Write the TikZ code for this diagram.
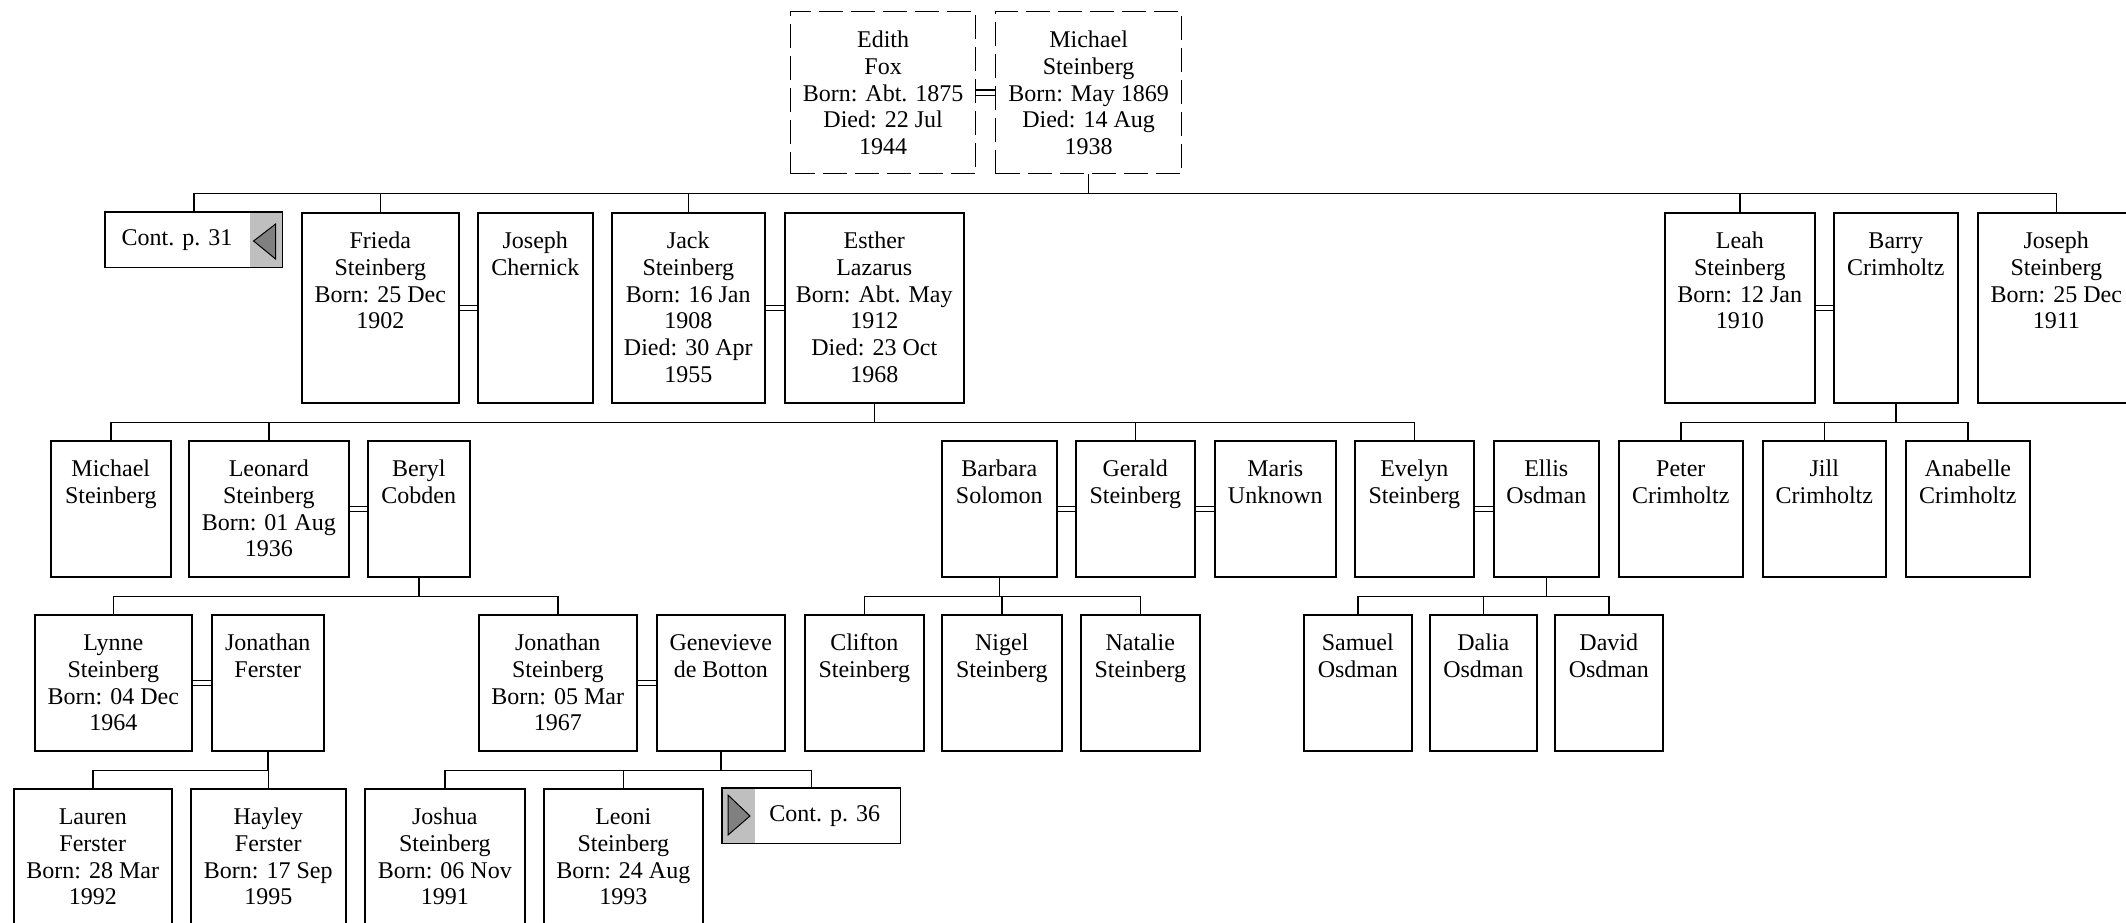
\documentclass[tikz,border=0pt]{standalone}
\usepackage{fontspec}
\setmainfont{Liberation Serif}
\usetikzlibrary{calc}
\tikzset{
  pbox/.style={draw, line width=0.8pt, inner sep=0pt, anchor=north west, fill=white,
    font=\fontsize{12}{13.35}\selectfont},
  dbox/.style={pbox, line width=0.6pt, dash pattern=on 12pt off 4pt},
  conn/.style={line width=0.7pt},
  lbl/.style={inner sep=0pt, font=\fontsize{12}{13.35}\selectfont},
  contgray/.style={fill=black!25},
  arrowtri/.style={fill=black!50, draw, line width=0.5pt, line join=miter},
}
\newcommand\pers[7]{%
  \pgfmathsetmacro\pw{(#5-#3)/2}%
  \pgfmathsetmacro\ph{(#6-#4)/2}%
  \node[#1] (#2) at (#3,#4) {\parbox[c][\ph pt][t]{\pw pt}{\centering\rule{0pt}{18pt}#7\par}};}
\newcommand\marr[2]{%
  \draw[conn] ([yshift=1.3pt]#1.east) -- ([yshift=1.3pt]#2.west);
  \draw[conn] ([yshift=-1.3pt]#1.east) -- ([yshift=-1.3pt]#2.west);}
\begin{document}
\begin{tikzpicture}[x=0.5pt,y=-0.5pt]
\useasboundingbox (0,0) rectangle (2126,922);
\clip (0,0) rectangle (2126,922);
\fill[white] (0,0) rectangle (2126,922);

% generation 1
\pers{dbox}{edith}{790}{11}{975}{173}{Edith\\Fox\\Born: Abt. 1875\\Died: 22 Jul\\1944}
\pers{dbox}{michael}{995}{11}{1181}{173}{Michael\\Steinberg\\Born: May 1869\\Died: 14 Aug\\1938}

% generation 2
\node[pbox, draw=none, minimum width=88pt, minimum height=27pt] (cont31) at (105,212) {};
\fill[contgray] ($(cont31.north east)+(-33,0)$) rectangle (cont31.south east);
\draw[arrowtri] ($(cont31.north east)+(-29,29)$) -- ($(cont31.north east)+(-7,12)$) -- ($(cont31.north east)+(-7,47)$) -- cycle;
\draw[line width=0.8pt] (cont31.north west) rectangle (cont31.south east);
\node[lbl] (t31) at ($(cont31.west)!0.405!(cont31.east)$) {Cont. p. 31};

\pers{pbox}{frieda}{301}{212}{458}{402}{Frieda\\Steinberg\\Born: 25 Dec\\1902}
\pers{pbox}{chernick}{477}{212}{592}{402}{Joseph\\Chernick}
\pers{pbox}{jack}{611}{212}{764}{402}{Jack\\Steinberg\\Born: 16 Jan\\1908\\Died: 30 Apr\\1955}
\pers{pbox}{esther}{784}{212}{963}{402}{Esther\\Lazarus\\Born: Abt. May\\1912\\Died: 23 Oct\\1968}
\pers{pbox}{leah}{1664}{212}{1814}{402}{Leah\\Steinberg\\Born: 12 Jan\\1910}
\pers{pbox}{barry}{1833}{212}{1957}{402}{Barry\\Crimholtz}
\pers{pbox}{josephs}{1977}{212}{2134}{402}{Joseph\\Steinberg\\Born: 25 Dec\\1911}

% generation 3
\pers{pbox}{michaels}{50}{440}{170}{576}{Michael\\Steinberg}
\pers{pbox}{leonard}{188}{440}{348}{576}{Leonard\\Steinberg\\Born: 01 Aug\\1936}
\pers{pbox}{beryl}{367}{440}{469}{576}{Beryl\\Cobden}
\pers{pbox}{barbara}{941}{440}{1056}{576}{Barbara\\Solomon}
\pers{pbox}{gerald}{1075}{440}{1194}{576}{Gerald\\Steinberg}
\pers{pbox}{maris}{1214}{440}{1335}{576}{Maris\\Unknown}
\pers{pbox}{evelyn}{1354}{440}{1473}{576}{Evelyn\\Steinberg}
\pers{pbox}{ellis}{1493}{440}{1598}{576}{Ellis\\Osdman}
\pers{pbox}{peter}{1618}{440}{1742}{576}{Peter\\Crimholtz}
\pers{pbox}{jill}{1762}{440}{1885}{576}{Jill\\Crimholtz}
\pers{pbox}{anabelle}{1905}{440}{2029}{576}{Anabelle\\Crimholtz}

% generation 4
\pers{pbox}{lynne}{34}{614}{191}{750}{Lynne\\Steinberg\\Born: 04 Dec\\1964}
\pers{pbox}{jferster}{211}{614}{323}{750}{Jonathan\\Ferster}
\pers{pbox}{jsteinberg}{478}{614}{636}{750}{Jonathan\\Steinberg\\Born: 05 Mar\\1967}
\pers{pbox}{genevieve}{656}{614}{784}{750}{Genevieve\\de Botton}
\pers{pbox}{clifton}{804}{614}{923}{750}{Clifton\\Steinberg}
\pers{pbox}{nigel}{941}{614}{1061}{750}{Nigel\\Steinberg}
\pers{pbox}{natalie}{1080}{614}{1199}{750}{Natalie\\Steinberg}
\pers{pbox}{samuel}{1303}{614}{1411}{750}{Samuel\\Osdman}
\pers{pbox}{dalia}{1429}{614}{1536}{750}{Dalia\\Osdman}
\pers{pbox}{david}{1554}{614}{1662}{750}{David\\Osdman}

% generation 5
\pers{pbox}{lauren}{13}{788}{171}{950}{Lauren\\Ferster\\Born: 28 Mar\\1992}
\pers{pbox}{hayley}{190}{788}{345}{950}{Hayley\\Ferster\\Born: 17 Sep\\1995}
\pers{pbox}{joshua}{364}{788}{524}{950}{Joshua\\Steinberg\\Born: 06 Nov\\1991}
\pers{pbox}{leoni}{543}{788}{702}{950}{Leoni\\Steinberg\\Born: 24 Aug\\1993}

\node[pbox, draw=none, minimum width=88.5pt, minimum height=27pt] (cont36) at (722,788) {};
\fill[contgray] (cont36.north west) rectangle ($(cont36.south west)+(33,0)$);
\draw[arrowtri] ($(cont36.north west)+(28,28)$) -- ($(cont36.north west)+(6,7)$) -- ($(cont36.north west)+(6,47)$) -- cycle;
\draw[line width=0.8pt] (cont36.north west) rectangle (cont36.south east);
\node[lbl] (t36) at ($(cont36.west)!0.575!(cont36.east)$) {Cont. p. 36};

% marriages
\marr{edith}{michael}
\marr{frieda}{chernick}
\marr{jack}{esther}
\marr{leah}{barry}
\marr{leonard}{beryl}
\marr{barbara}{gerald}
\marr{gerald}{maris}
\marr{evelyn}{ellis}
\marr{lynne}{jferster}
\marr{jsteinberg}{genevieve}

% descent lines
\coordinate (b1) at ($(michael.south)+(0,19)$);
\draw[conn] (michael.south) -- (b1);
\draw[conn] (cont31.north) |- (b1) -| (josephs.north);
\foreach \c in {frieda,jack,leah} \draw[conn] (\c.north) -- (\c.north |- b1);

\coordinate (b2) at ($(esther.south)+(0,19)$);
\draw[conn] (esther.south) -- (b2);
\draw[conn] (michaels.north) |- (b2) -| (evelyn.north);
\foreach \c in {leonard,gerald} \draw[conn] (\c.north) -- (\c.north |- b2);

\coordinate (b3) at ($(barry.south)+(0,19)$);
\draw[conn] (barry.south) -- (b3);
\draw[conn] (peter.north) |- (b3) -| (anabelle.north);
\draw[conn] (jill.north) -- (jill.north |- b3);

\coordinate (b4) at ($(beryl.south)+(0,19)$);
\draw[conn] (beryl.south) -- (b4);
\draw[conn] (lynne.north) |- (b4) -| (jsteinberg.north);

\coordinate (b5) at ($(barbara.south)+(0,19)$);
\draw[conn] (barbara.south) -- (b5);
\draw[conn] (clifton.north) |- (b5) -| (natalie.north);
\draw[conn] (nigel.north) -- (nigel.north |- b5);

\coordinate (b6) at ($(ellis.south)+(0,19)$);
\draw[conn] (ellis.south) -- (b6);
\draw[conn] (samuel.north) |- (b6) -| (david.north);
\draw[conn] (dalia.north) -- (dalia.north |- b6);

\coordinate (b7) at ($(jferster.south)+(0,19)$);
\draw[conn] (jferster.south) -- (b7);
\draw[conn] (lauren.north) |- (b7) -| (hayley.north);

\coordinate (b8) at ($(genevieve.south)+(0,19)$);
\draw[conn] (genevieve.south) -- (b8);
\draw[conn] (joshua.north) |- (b8) -| (cont36.north);
\draw[conn] (leoni.north) -- (leoni.north |- b8);
\end{tikzpicture}
\end{document}
